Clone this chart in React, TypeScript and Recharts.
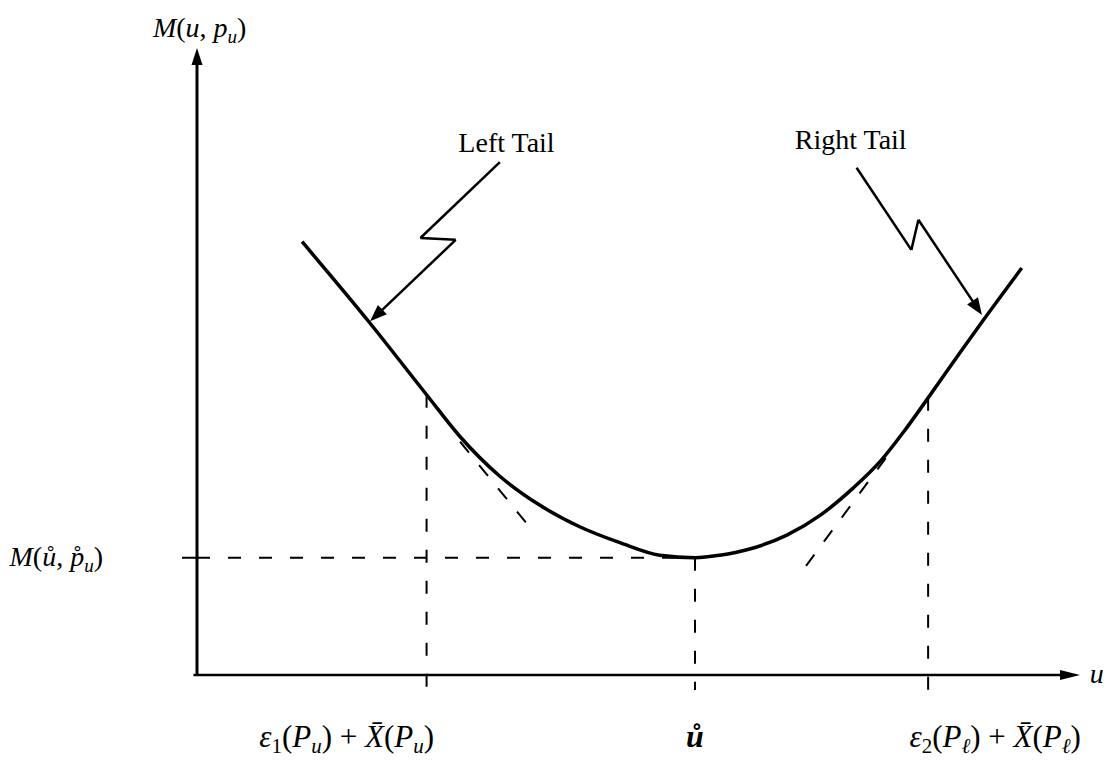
import { ComposedChart, Line, XAxis, YAxis, ReferenceLine, ReferenceDot } from "recharts";

// M(u, p_u) against u, sampled along the curve
const curveU = [11.9, 19.6, 26.0, 29.8, 34.3, 38.8, 43.4, 47.9, 52.4, 56.4, 59.2, 62.6, 66.8, 70.6, 74.3, 77.4, 80.2, 82.8, 86.4, 89.0, 93.4];
const curveM = [69.1, 56.1, 44.7, 38.0, 31.7, 27.1, 23.6, 21.1, 19.1, 18.7, 19.1, 20.1, 22.3, 25.5, 29.8, 34.1, 39.1, 44.2, 51.4, 56.5, 64.9];

// abscissae marked on the u axis, and the minimum value
const uTicks = [26.0, 56.4, 82.8];
const mMin = 18.7;

// tangent stubs under the curve at the two tail points
const leftTangentU = [29.8, 37.5];
const leftTangentM = [37.2, 23.9];
const rightTangentU = [78.0, 68.6];
const rightTangentM = [34.6, 16.7];

// zigzag callouts pointing at the tails
const leftCalloutU = [34.3, 25.3, 29.3, 19.6];
const leftCalloutM = [81.8, 69.7, 69.4, 56.4];
const rightCalloutU = [74.7, 80.9, 81.7, 88.9];
const rightCalloutM = [80.9, 67.8, 72.6, 57.4];

const curve = curveU.map((u, i) => ({ u, m: curveM[i] }));
const curveAt = (u: number) => curveM[curveU.indexOf(u)];

const INK = "#000";
const SERIF = "'Liberation Serif', 'Times New Roman', serif";
const DASH = "13 18";
const BELOW_AXIS = -2.4;

// line with a filled arrowhead at its end
const arrow = (head: number, half: number, sw: number) => (props: any) => {
  const { x1, y1, x2, y2 } = props;
  const a = Math.atan2(y2 - y1, x2 - x1);
  const c = Math.cos(a);
  const s = Math.sin(a);
  const bx = x2 - head * c;
  const by = y2 - head * s;
  const pts = `${x2},${y2} ${bx - half * s},${by + half * c} ${bx + half * s},${by - half * c}`;
  return (
    <g>
      <line x1={x1} y1={y1} x2={bx + 2 * c} y2={by + 2 * s} stroke={INK} strokeWidth={sw} />
      <polygon points={pts} fill={INK} />
    </g>
  );
};

const Sub = ({ children, size = 19 }: { children: any; size?: number }) => (
  <tspan fontSize={size} dy={6}>{children}</tspan>
);
const Up = ({ children }: { children: any }) => <tspan dy={-6}>{children}</tspan>;
const I = ({ children }: { children: any }) => <tspan fontStyle="italic">{children}</tspan>;

const XTick = (props: any) => {
  const { x, y, index } = props;
  const shift = [-80, 0, 67][index];
  const base = y + 72;
  if (index === 1) {
    return (
      <text x={x + shift} y={base} textAnchor="middle" fontFamily={SERIF} fontSize={32} fontStyle="italic" fontWeight="bold" fill={INK}>
        ů
      </text>
    );
  }
  const k = index === 0 ? "1" : "2";
  const p = index === 0 ? "u" : "ℓ";
  return (
    <text x={x + shift} y={base} textAnchor="middle" fontFamily={SERIF} fontSize={31} fill={INK}>
      <I>ε</I>
      <Sub size={21}>{k}</Sub>
      <Up>(</Up>
      <I>P</I>
      <Sub size={21}><I>{p}</I></Sub>
      <Up>) + </Up>
      <I>X̄</I>
      <tspan>(</tspan>
      <I>P</I>
      <Sub size={21}><I>{p}</I></Sub>
      <Up>)</Up>
    </text>
  );
};

const YTick = (props: any) => {
  const { x, y } = props;
  return (
    <text x={x - 77} y={y + 8} textAnchor="end" fontFamily={SERIF} fontSize={28} fill={INK}>
      <I>M</I>
      <tspan>(</tspan>
      <I>ů</I>
      <tspan>, </tspan>
      <I>p̊</I>
      <Sub><I>u</I></Sub>
      <Up>)</Up>
    </text>
  );
};

const segments = (us: number[], ms: number[]) =>
  us.slice(1).map((u, i) => [
    { x: us[i], y: ms[i] },
    { x: u, y: ms[i + 1] },
  ]);

const Callout = (us: number[], ms: number[], key: string) =>
  segments(us, ms).map((seg, i, all) => (
    <ReferenceLine
      key={`${key}-${i}`}
      segment={seg}
      ifOverflow="visible"
      stroke={INK}
      strokeWidth={2.5}
      shape={i === all.length - 1 ? arrow(17, 6.5, 2.5) : undefined}
    />
  ));

const textAt = (u: number, m: number, body: any, anchor = "start") => (
  <ReferenceDot
    x={u}
    y={m}
    ifOverflow="visible"
    shape={(p: any) => (
      <text x={p.cx} y={p.cy} textAnchor={anchor} fontFamily={SERIF} fontSize={28} fill={INK}>
        {body}
      </text>
    )}
  />
);

export default function App() {
  return (
    <div style={{ position: "absolute", left: 0, top: 0, background: "#fff" }}>
      <ComposedChart width={1106} height={762} data={curve} margin={{ top: 48, right: 26, bottom: 0, left: 0 }}>
        <XAxis
          type="number"
          dataKey="u"
          domain={[0, 100]}
          ticks={uTicks}
          axisLine={false}
          tickLine={false}
          tickSize={0}
          tickMargin={0}
          height={87}
          tick={<XTick />}
          interval={0}
        />
        <YAxis
          type="number"
          domain={[0, 100]}
          ticks={[mMin]}
          axisLine={false}
          tickLine={{ stroke: INK, strokeWidth: 2 }}
          tickSize={15}
          width={197}
          tick={<YTick />}
        />

        {/* dashed guides */}
        <ReferenceLine segment={[{ x: 0, y: mMin }, { x: uTicks[1], y: mMin }]} ifOverflow="visible" stroke={INK} strokeWidth={2} strokeDasharray={DASH} />
        {uTicks.map((u) => (
          <ReferenceLine
            key={u}
            segment={[{ x: u, y: curveAt(u) }, { x: u, y: BELOW_AXIS }]}
            ifOverflow="visible"
            stroke={INK}
            strokeWidth={2}
            strokeDasharray={DASH}
          />
        ))}
        <ReferenceLine segment={[{ x: leftTangentU[0], y: leftTangentM[0] }, { x: leftTangentU[1], y: leftTangentM[1] }]} ifOverflow="visible" stroke={INK} strokeWidth={2} strokeDasharray="14 16" />
        <ReferenceLine segment={[{ x: rightTangentU[0], y: rightTangentM[0] }, { x: rightTangentU[1], y: rightTangentM[1] }]} ifOverflow="visible" stroke={INK} strokeWidth={2} strokeDasharray="14 16" />

        {/* axes with arrowheads */}
        <ReferenceLine segment={[{ x: -0.4, y: 0 }, { x: 100, y: 0 }]} ifOverflow="visible" shape={arrow(20, 5, 2.5)} />
        <ReferenceLine segment={[{ x: 0, y: 0 }, { x: 0, y: 100 }]} ifOverflow="visible" shape={arrow(17, 5.5, 3)} />

        <Line type="monotone" dataKey="m" stroke={INK} strokeWidth={3.5} dot={false} activeDot={false} isAnimationActive={false} />

        {Callout(leftCalloutU, leftCalloutM, "lc")}
        {Callout(rightCalloutU, rightCalloutM, "rc")}

        {textAt(29.6, 83.4, "Left Tail")}
        {textAt(67.7, 83.9, "Right Tail")}
        {textAt(0.3, 101.8, (
          <>
            <I>M</I>
            <tspan>(</tspan>
            <I>u</I>
            <tspan>, </tspan>
            <I>p</I>
            <Sub><I>u</I></Sub>
            <Up>)</Up>
          </>
        ), "middle")}
        {textAt(101.1, -1.3, <I>u</I>)}
      </ComposedChart>
    </div>
  );
}
